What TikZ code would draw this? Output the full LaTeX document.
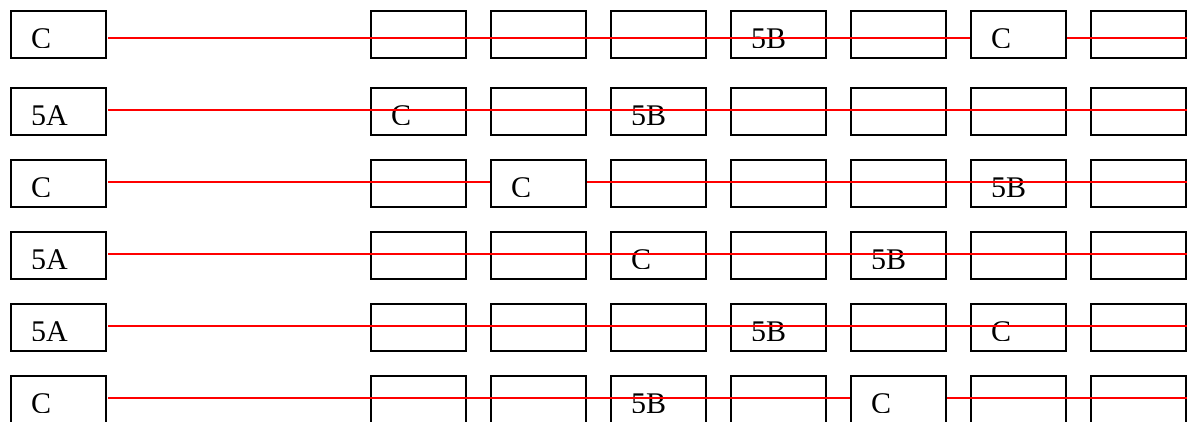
\documentclass[tikz,border=0pt]{standalone}
\usepackage{fontspec}
\setmainfont{Liberation Serif}
\begin{document}
\begin{tikzpicture}[x=1pt,y=-1pt,
  cell/.style={draw=black,line width=2pt,minimum width=94.7pt,minimum height=46.7pt,inner sep=0pt,anchor=north west},
  lab/.style={font=\fontsize{30}{30}\selectfont,anchor=base west,inner sep=0pt},
  track/.style={draw=red,line width=2pt}]
\useasboundingbox (0,0) rectangle (1187,421);
% boxes
\foreach \r/\t in {1/10.3,2/87,3/159,4/231,5/303,6/375}
  \foreach \c/\x in {0/10.3,1/370.3,2/490.3,3/610.3,4/730.3,5/850.3,6/970.3,7/1090.3}
    \node[cell] (r\r c\c) at (\x,\t) {};
% labels (clipped at the bottom as in the reference)
\begin{scope}
  \clip (0,10.3) rectangle (1187,47.3)
        (0,87) rectangle (1187,124)
        (0,159) rectangle (1187,196)
        (0,231) rectangle (1187,268)
        (0,303) rectangle (1187,340)
        (0,375) rectangle (1187,412);
  \foreach \r/\c/\s in {1/0/C,1/4/5B,1/6/C,
                        2/0/5A,2/1/C,2/3/5B,
                        3/0/C,3/2/C,3/6/5B,
                        4/0/5A,4/3/C,4/5/5B,
                        5/0/5A,5/4/5B,5/6/C,
                        6/0/C,6/3/5B,6/5/C}
    \node[lab] (t\r c\c) at ([xshift=20.5pt,yshift=-38.5pt]r\r c\c.north west) {\s};
\end{scope}
% end points of the red tracks
\coordinate (e1) at (1187,38);
\coordinate (e2) at (1187,110);
\coordinate (e3) at (1187,182);
\coordinate (e4) at (1187,254);
\coordinate (e5) at (1187,326);
\coordinate (e6) at (1187,398);
% red tracks
\draw[track] ([xshift=1pt]r1c0.east |- e1) -- (r1c6.west |- e1);
\draw[track] (r1c6.east |- e1) -- (e1);
\draw[track] ([xshift=1pt]r2c0.east |- e2) -- (e2);
\draw[track] ([xshift=1pt]r3c0.east |- e3) -- (r3c2.west |- e3);
\draw[track] (r3c2.east |- e3) -- (e3);
\draw[track] ([xshift=1pt]r4c0.east |- e4) -- (e4);
\draw[track] ([xshift=1pt]r5c0.east |- e5) -- (e5);
\draw[track] ([xshift=1pt]r6c0.east |- e6) -- (r6c5.west |- e6);
\draw[track] (r6c5.east |- e6) -- (e6);
\end{tikzpicture}
\end{document}
